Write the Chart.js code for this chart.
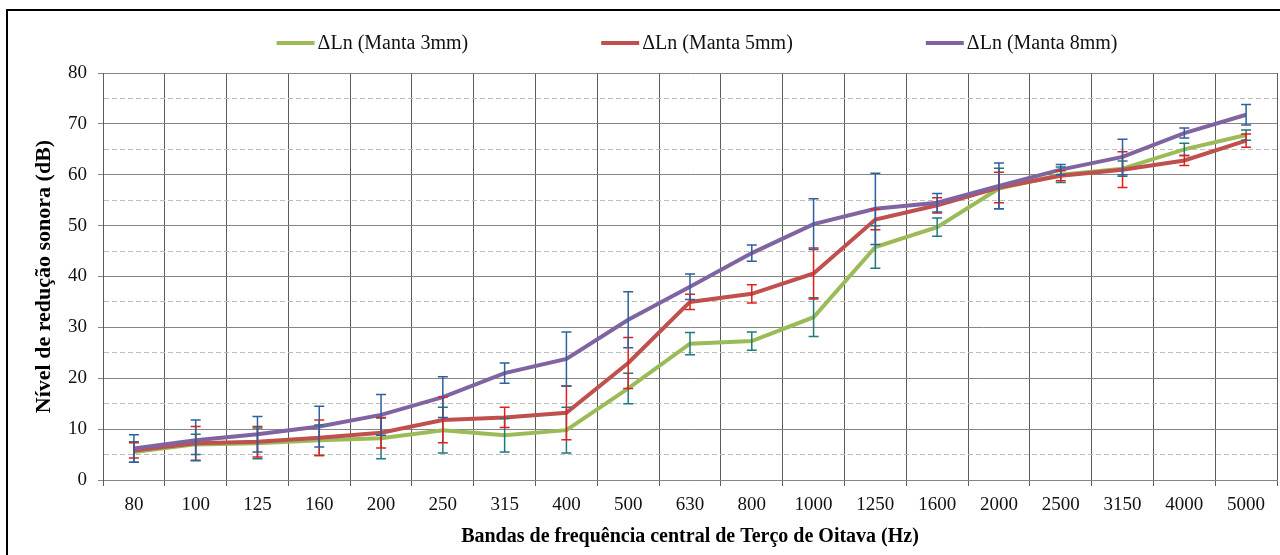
<!DOCTYPE html>
<html><head><meta charset="utf-8">
<script src="https://cdn.jsdelivr.net/npm/chart.js@4.4.0/dist/chart.umd.min.js"></script>
<style>html,body{margin:0;padding:0;background:#fff;overflow:hidden;}</style>
</head><body>
<canvas id="c" width="1280" height="555"></canvas>
<script>
const categories = ['80','100','125','160','200','250','315','400','500','630','800','1000','1250','1600','2000','2500','3150','4000','5000'];
const seriesLabels = ['ΔLn (Manta 3mm)','ΔLn (Manta 5mm)','ΔLn (Manta 8mm)'];
const manta3 = [5.5, 7.0, 7.2, 7.8, 8.2, 9.8, 8.8, 9.8, 18.0, 26.8, 27.3, 32.0, 45.8, 49.7, 57.3, 60.0, 61.2, 65.0, 67.8];
const manta3Err = [2.0, 2.0, 3.0, 3.0, 4.0, 4.5, 3.3, 4.5, 3.0, 2.2, 1.8, 3.8, 4.2, 1.8, 4.0, 1.5, 1.5, 1.2, 1.0];
const manta5 = [5.8, 7.2, 7.5, 8.3, 9.3, 11.8, 12.3, 13.2, 23.0, 35.0, 36.6, 40.6, 51.2, 54.0, 57.5, 59.8, 61.0, 62.8, 66.7];
const manta5Err = [1.5, 3.3, 3.0, 3.5, 3.0, 4.5, 2.0, 5.3, 5.0, 1.5, 1.8, 5.0, 2.0, 1.5, 3.0, 1.0, 3.5, 1.0, 1.3];
const manta8 = [6.2, 7.8, 9.0, 10.5, 12.8, 16.3, 21.0, 23.8, 31.5, 38.0, 44.6, 50.3, 53.3, 54.5, 57.8, 61.0, 63.5, 68.2, 71.8];
const manta8Err = [2.7, 4.0, 3.5, 4.0, 4.0, 4.0, 2.0, 5.3, 5.5, 2.5, 1.6, 5.0, 7.0, 1.8, 4.5, 1.0, 3.5, 1.0, 2.0];
const yTitle = 'Nível de redução sonora (dB)';
const xTitle = 'Bandas de frequência central de Terço de Oitava (Hz)';

const SERIF = '"Liberation Serif", "Times New Roman", serif';
const VGRID = '#5c5c5c';
const MAJOR = '#858585';
const MINOR = '#bdbdbd';

const borderPlugin = {
  id: 'outerBorder',
  beforeDraw(chart) {
    const ctx = chart.ctx;
    ctx.save();
    ctx.fillStyle = '#fff';
    ctx.fillRect(0, 0, chart.width, chart.height);
    ctx.strokeStyle = '#000';
    ctx.lineWidth = 2;
    ctx.strokeRect(7, 10, 1290, 600);
    ctx.restore();
  }
};

const errorBarPlugin = {
  id: 'errorBars',
  afterDatasetsDraw(chart) {
    const ctx = chart.ctx;
    const yScale = chart.scales.y;
    ctx.save();
    chart.data.datasets.forEach((ds, di) => {
      const meta = chart.getDatasetMeta(di);
      ctx.strokeStyle = ds.errColor;
      ctx.lineWidth = 1.5;
      ds.data.forEach((v, i) => {
        const e = ds.errors[i];
        const x = meta.data[i].x;
        const yt = yScale.getPixelForValue(v + e);
        const yb = yScale.getPixelForValue(v - e);
        ctx.beginPath();
        ctx.moveTo(x, yt); ctx.lineTo(x, yb);
        ctx.moveTo(x - 5, yt); ctx.lineTo(x + 5, yt);
        ctx.moveTo(x - 5, yb); ctx.lineTo(x + 5, yb);
        ctx.stroke();
      });
    });
    ctx.restore();
  }
};

const legendPlugin = {
  id: 'customLegend',
  afterDraw(chart) {
    const ctx = chart.ctx;
    ctx.save();
    ctx.font = '20px ' + SERIF;
    const lineLen = 38, gapText = 3, gap = 133;
    const items = chart.data.datasets.map(d => ({
      label: d.label, color: d.borderColor,
      w: lineLen + gapText + ctx.measureText(d.label).width
    }));
    const total = items.reduce((s, it) => s + it.w, 0) + gap * (items.length - 1);
    let x = 697 - total / 2;
    const y = 43;
    items.forEach(it => {
      ctx.strokeStyle = it.color;
      ctx.lineWidth = 4;
      ctx.beginPath(); ctx.moveTo(x, y); ctx.lineTo(x + lineLen, y); ctx.stroke();
      ctx.fillStyle = '#111';
      ctx.textAlign = 'left';
      ctx.textBaseline = 'middle';
      ctx.fillText(it.label, x + lineLen + gapText, y + 1);
      x += it.w + gap;
    });
    ctx.restore();
  }
};

const isMajor = ctx => ctx.tick && Math.round(ctx.tick.value) % 10 === 0;

new Chart(document.getElementById('c'), {
  type: 'line',
  data: {
    labels: categories,
    datasets: [
      { label: seriesLabels[0], data: manta3, errors: manta3Err, errColor: '#1f7a7a',
        borderColor: '#9bbb59', backgroundColor: '#9bbb59', order: 2 },
      { label: seriesLabels[1], data: manta5, errors: manta5Err, errColor: '#e0201e',
        borderColor: '#c0504d', backgroundColor: '#c0504d', order: 1 },
      { label: seriesLabels[2], data: manta8, errors: manta8Err, errColor: '#2f5f9f',
        borderColor: '#8064a2', backgroundColor: '#8064a2', order: 0 }
    ]
  },
  options: {
    responsive: false,
    animation: false,
    devicePixelRatio: 1,
    layout: { padding: { top: 73, right: 3, left: 0, bottom: 0 } },
    elements: {
      line: { borderWidth: 4, tension: 0 },
      point: { radius: 0, hoverRadius: 0 }
    },
    plugins: { legend: { display: false }, tooltip: { enabled: false } },
    scales: {
      x: {
        type: 'category',
        offset: true,
        grid: { offset: true, color: VGRID, lineWidth: 1, tickLength: 6, tickColor: VGRID },
        border: { color: MAJOR, width: 1 },
        ticks: { color: '#111', font: { family: SERIF, size: 19 }, padding: 8, maxRotation: 0, autoSkip: false },
        title: { display: true, text: xTitle, color: '#000', font: { family: SERIF, size: 20, weight: 'bold' }, padding: { top: 0, bottom: 6 } },
        afterFit(scale) { scale.height = 75; }
      },
      y: {
        min: 0, max: 80,
        ticks: {
          stepSize: 5, autoSkip: false, color: '#111', padding: 11,
          font: { family: SERIF, size: 19 },
          callback: v => (v % 10 === 0 ? String(v) : '')
        },
        grid: {
          color: ctx => isMajor(ctx) ? MAJOR : MINOR,
          lineWidth: 1,
          tickLength: 5,
          tickColor: ctx => isMajor(ctx) ? MAJOR : 'rgba(0,0,0,0)'
        },
        border: {
          color: VGRID, width: 1,
          dash: ctx => (ctx.tick && !isMajor(ctx)) ? [5, 3] : []
        },
        title: { display: true, text: yTitle, color: '#000', font: { family: SERIF, size: 22, weight: 'bold' }, padding: { top: 31, bottom: 0 } },
        afterFit(scale) { scale.width = 103; }
      }
    }
  },
  plugins: [borderPlugin, errorBarPlugin, legendPlugin]
});
</script>
</body></html>
